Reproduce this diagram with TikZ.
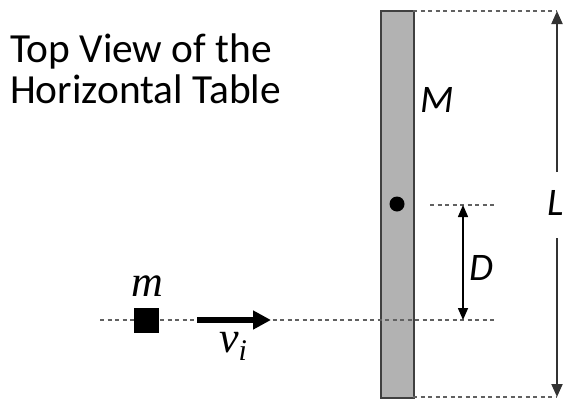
\documentclass[tikz,border=0pt]{standalone}
\usepackage{fontspec}
\setmainfont{Carlito}
\newfontfamily\serifvar{Liberation Serif}
\usetikzlibrary{arrows.meta}
\begin{document}
\begin{tikzpicture}[x=1pt,y=-1pt,
  dashline/.style={draw=black!62, line width=1.3pt, dash pattern=on 4pt off 3.5pt},
  titletext/.style={font=\fontsize{41.4}{42}\selectfont, inner sep=0, anchor=base west},
  lab/.style={font=\fontsize{39}{39}\selectfont\itshape, inner sep=0},
  mlab/.style={font=\fontsize{44}{44}\selectfont\serifvar\itshape, inner sep=0},
  dimarrow/.style={draw=black!80, line width=2pt, -{Triangle[width=11pt,length=13pt]}},
  darrow/.style={draw=black, line width=1.5pt, {Triangle[width=10pt,length=12pt]}-{Triangle[width=10pt,length=12pt]}},
]
\useasboundingbox (0,0) rectangle (564,399);
% title
\node[titletext] (t1) at (10,62) {Top View of the};
\node[titletext] (t2) at (10,103) {Horizontal Table};
% bar
\node[draw=black!75, fill=black!30, line width=2pt, minimum width=33pt, minimum height=387pt, inner sep=0, anchor=north west] (bar) at (380,10) {};
\node[circle, fill=black, minimum size=15pt, inner sep=0] (pivot) at (397,204) {};
% coordinates
\coordinate (Ltop) at (557,11);
\coordinate (Lbot) at (557,397);
\coordinate (Lgapt) at (557,172);
\coordinate (Lgapb) at (557,238);
\coordinate (dotL) at (430,205);
\coordinate (dotR) at (497,205);
\coordinate (Dtop) at (463,205);
\coordinate (Dbot) at (463,320);
\coordinate (hl) at (100,320);
\coordinate (hr) at (497,320);
\coordinate (vs) at (197,320);
\coordinate (ve) at (271,320);
% dashed lines
\draw[dashline] (413,11) -- (Ltop);
\draw[dashline] (413,397) -- (Lbot);
\draw[dashline] (dotL) -- (dotR);
\draw[dashline] (hl) -- (hr);
% L dimension
\node[lab] (Llab) at (556,203) {L};
\draw[dimarrow] (Lgapt) -- (Ltop);
\draw[dimarrow] (Lgapb) -- (Lbot);
% D dimension
\draw[darrow] (Dtop) -- (Dbot);
\node[lab] (Dlab) at (481,268) {D};
% M label
\node[lab] (Mlab) at (437,100) {M};
% block and velocity
\node[fill=black, minimum size=25pt, inner sep=0] (blk) at (146,320.5) {};
\node[mlab] (mlab) at (147,286) {m};
\draw[line width=6.5pt, -{Triangle[width=18pt,length=18pt]}] (vs) -- (ve);
\node[mlab, anchor=base west] (vlab) at (219,352) {v\raisebox{-8pt}{\fontsize{30}{30}\selectfont i}};
\end{tikzpicture}
\end{document}
